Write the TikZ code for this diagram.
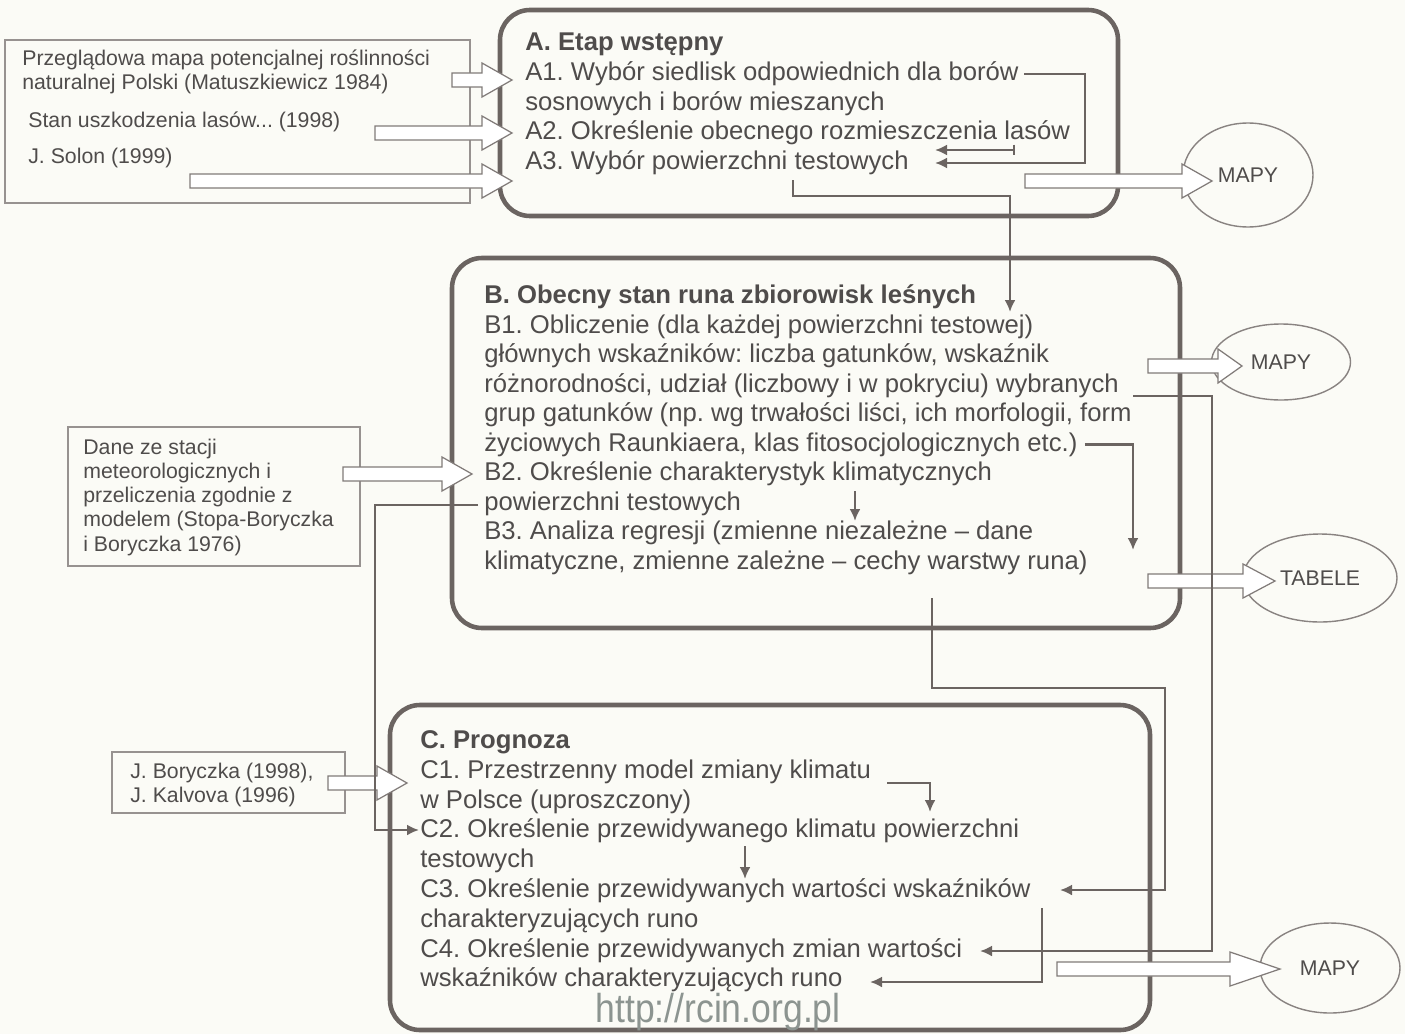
\documentclass[tikz,border=0pt]{standalone}
\usepackage{fontspec}
\setmainfont{Liberation Sans}
\usetikzlibrary{arrows.meta, positioning, shapes.geometric, calc, fit}
\definecolor{ink}{HTML}{4F4C4B}
\definecolor{frame}{HTML}{6B6461}
\definecolor{paper}{HTML}{FBFBF6}
\definecolor{mark}{HTML}{8C9490}

% wide hollow arrow: [head length]{from}{tip}
\newcommand{\hollowarrow}[3][30]{%
  \draw[hollow] ($(#2)+(0,-7)$) -- ($(#3)+(-#1,-7)$) -- ($(#3)+(-#1,-17)$) -- (#3)
    -- ($(#3)+(-#1,17)$) -- ($(#3)+(-#1,7)$) -- ($(#2)+(0,7)$) -- cycle;}

\begin{document}
\frenchspacing
\begin{tikzpicture}[
  x=0.02cm, y=-0.02cm,
  stage/.style={draw=frame, line width=2.6pt, rounded corners=0.6cm, inner sep=0pt},
  source/.style={draw=frame!70, line width=1pt, inner sep=0pt},
  txt/.style={anchor=west, inner sep=0pt, text=ink, font=\fontsize{14.6}{17}\selectfont,
    text height=10.4pt, text depth=3pt},
  head/.style={txt, font=\fontsize{14.6}{17}\selectfont\bfseries},
  stxt/.style={anchor=west, inner sep=0pt, text=ink, font=\fontsize{12.1}{14}\selectfont,
    text height=8.6pt, text depth=2.5pt},
  conn/.style={draw=frame, line width=1.3pt, -{Latex[length=2.4mm,width=2.2mm]}},
  hollow/.style={draw=frame!85, line width=0.7pt, fill=white, line join=miter},
  result/.style={ellipse, draw=frame!80, line width=0.8pt, inner sep=0pt, text=ink,
    font=\fontsize{12.1}{14}\selectfont}
]
\useasboundingbox (0,0) rectangle (1405,1034);
\fill[paper] (0,0) rectangle (1405,1034);

% Output ellipses
\node[result, minimum width=2.6cm, minimum height=2.08cm] (mapa1) at (1248,175) {MAPY};
\node[result, minimum width=2.78cm, minimum height=1.52cm] (mapa2) at (1281,362) {MAPY};
\node[result, minimum width=3.08cm, minimum height=1.76cm] (tabele) at (1320,578) {TABELE};
\node[result, minimum width=2.8cm, minimum height=1.8cm] (mapa3) at (1330,968) {MAPY};

% Source boxes
\node[source, fit={(5,40) (470,203)}] (src) {};
\node[source, fit={(68,427) (360,566)}] (dane) {};
\node[source, fit={(112,752) (345,813)}] (bor) {};

\node[stxt] (s1) at (22,60) {Przeglądowa mapa potencjalnej roślinności};
\node[stxt] (s2) at (22,84) {naturalnej Polski (Matuszkiewicz 1984)};
\node[stxt] (s3) at (28,122) {Stan uszkodzenia lasów... (1998)};
\node[stxt] (s4) at (28,158) {J. Solon (1999)};
\foreach \t [count=\i from 0] in {Dane ze stacji, meteorologicznych i,
    przeliczenia zgodnie z, modelem (Stopa-Boryczka, i Boryczka 1976)}
  \node[stxt] (d\i) at (83, 449+24.2*\i) {\t};
\node[stxt] (j1) at (130,773) {J. Boryczka (1998),};
\node[stxt] (j2) at (130,797) {J. Kalvova (1996)};

% Stage frames
\node[stage, fit={(500,10) (1118,216)}] (etapA) {};
\node[stage, fit={(452,258) (1180,628)}] (stanB) {};
\node[stage, fit={(390,705) (1150,1030)}] (progC) {};

% Stage texts
\node[head] (headA) at (525,44) {A. Etap wstępny};
\foreach \t [count=\i] in {A1. Wybór siedlisk odpowiednich dla borów,
    sosnowych i borów mieszanych, A2. Określenie obecnego rozmieszczenia lasów,
    A3. Wybór powierzchni testowych}
  \node[txt] (a\i) at (525, 44+29.8*\i) {\t};

\node[head] (headB) at (484,297) {B. Obecny stan runa zbiorowisk leśnych};
\foreach \t [count=\i] in {B1. Obliczenie (dla każdej powierzchni testowej),
    {głównych wskaźników: liczba gatunków, wskaźnik},
    {różnorodności, udział (liczbowy i w pokryciu) wybranych},
    {grup gatunków (np. wg trwałości liści, ich morfologii, form},
    {życiowych Raunkiaera, klas fitosocjologicznych etc.)},
    B2. Określenie charakterystyk klimatycznych, powierzchni testowych,
    B3. Analiza regresji (zmienne niezależne – dane,
    {klimatyczne, zmienne zależne – cechy warstwy runa)}}
  \node[txt] (b\i) at (484, 297+29.5*\i) {\t};

\node[head] (headC) at (420,742) {C. Prognoza};
\foreach \t [count=\i] in {C1. Przestrzenny model zmiany klimatu,
    w Polsce (uproszczony), C2. Określenie przewidywanego klimatu powierzchni,
    testowych, C3. Określenie przewidywanych wartości wskaźników,
    charakteryzujących runo, C4. Określenie przewidywanych zmian wartości,
    wskaźników charakteryzujących runo}
  \node[txt] (c\i) at (420, 742+29.8*\i) {\t};

% Wide arrows
\coordinate (s1o) at (452,80);  \coordinate (a1i) at (512,80);
\coordinate (s3o) at (375,133); \coordinate (a3i) at (512,133);
\coordinate (s4o) at (190,181); \coordinate (a4i) at (512,181);
\coordinate (do)  at (343,474); \coordinate (b6i) at (472,474);
\coordinate (jo)  at (328,783); \coordinate (c1i) at (407,783);
\coordinate (ao)  at (1025,181); \coordinate (m1i) at (1212,181);
\coordinate (bo1) at (1148,366); \coordinate (m2i) at (1242,366);
\coordinate (bo2) at (1148,581); \coordinate (ti)  at (1275,581);
\coordinate (co)  at (1057,969); \coordinate (m3i) at (1280,969);
\hollowarrow{s1o}{a1i}
\hollowarrow{s3o}{a3i}
\hollowarrow{s4o}{a4i}
\hollowarrow{do}{b6i}
\hollowarrow{jo}{c1i}
\hollowarrow{ao}{m1i}
\hollowarrow[24]{bo1}{m2i}
\hollowarrow[32]{bo2}{ti}
\hollowarrow[50]{co}{m3i}

% Links inside A and to B
\coordinate (a4in) at (935,163);
\coordinate (a3out) at (1015,150);
\coordinate (a3in) at (935,150);
\coordinate (a4out) at (793,180);
\coordinate (b1in) at (1010,312);
\draw[conn] ([xshift=3pt]a1.east) -| (1085,163) -- (a4in);
\draw[conn, {Bar[width=2.2mm]}-{Latex[length=2.4mm,width=2.2mm]}] (a3out) -- (a3in);
\draw[conn] (a4out) |- (1010,196) -- (b1in);

% Links inside B and to C
\coordinate (b3out) at (1133,396);
\coordinate (c7in) at (980,951);
\coordinate (b8in) at (1133,550);
\coordinate (b7out) at (855,491);
\coordinate (b8top) at (855,521);
\coordinate (b7left) at (478,505);
\coordinate (c3in) at (419,830);
\coordinate (bout) at (932,598);
\coordinate (c5in) at (1060,890);
\draw[conn] (b3out) -| (1212,951) -- (c7in);
\draw[conn] ([xshift=4pt]b5.east) -| (b8in);
\draw[conn] (b7out) -- (b8top);
\draw[conn] (b7left) -- (375,505) |- (c3in);
\draw[conn] (bout) |- (1165,688) |- (c5in);

% Links inside C
\coordinate (c1out) at (887,783);
\coordinate (c3top) at (930,812);
\coordinate (c3out) at (745,846);
\coordinate (c5top) at (745,879);
\coordinate (c5out) at (1042,908);
\coordinate (c8in) at (870,982);
\draw[conn] (c1out) -| (c3top);
\draw[conn] (c3out) -- (c5top);
\draw[conn] (c5out) |- (c8in);

% Watermark
\node[font=\fontsize{23}{25}\selectfont, text=mark, xscale=0.88, inner sep=0pt] (url)
  at (718,1012) {http://rcin.org.pl};

\end{tikzpicture}
\end{document}
